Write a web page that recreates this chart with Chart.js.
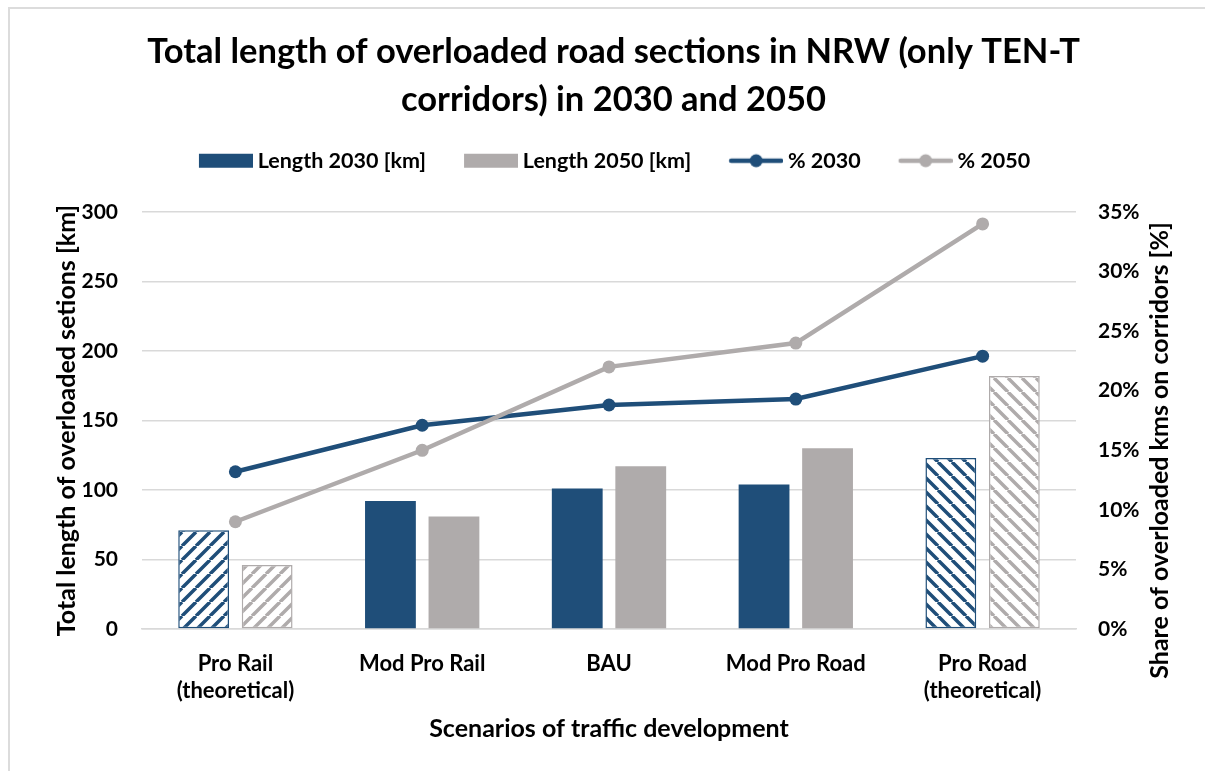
<!DOCTYPE html>
<html>
<head>
<meta charset="utf-8">
<title>Overloaded road sections in NRW</title>
<script src="https://cdn.jsdelivr.net/npm/chart.js@4.4.0/dist/chart.umd.min.js"></script>
<style>
  html, body { margin: 0; padding: 0; background: #fff; }
  #wrap { position: relative; width: 1205px; height: 771px; overflow: hidden; }
  #frame { position: absolute; left: 8px; top: 7px; width: 1300px; height: 900px;
           border-top: 2px solid #dcdcdc; border-left: 2px solid #dcdcdc; pointer-events: none; }
</style>
</head>
<body>
<div id="wrap">
  <canvas id="chart" width="1205" height="771"></canvas>
  <div id="frame"></div>
</div>
<script>
// data
const scenarios = [['Pro Rail', '(theoretical)'], 'Mod Pro Rail', 'BAU', 'Mod Pro Road', ['Pro Road', '(theoretical)']];
const length2030 = [71, 92, 101, 104, 123];
const length2050 = [46, 81, 117, 130, 182];
const share2030 = [13.2, 17.1, 18.8, 19.3, 22.9];
const share2050 = [9.0, 15.0, 22.0, 24.0, 34.0];
// theoretical scenarios are drawn hatched ('/' or '\')
const hatchDir = ['/', null, null, null, '\\'];
const kmTicks = [0, 50, 100, 150, 200, 250, 300];
const shareTicks = [0, 5, 10, 15, 20, 25, 30, 35];

const titleText = ['Total length of overloaded road sections in NRW (only TEN-T', 'corridors) in 2030 and 2050'];
const yTitle = 'Total length of overloaded setions [km]';
const y1Title = 'Share of overloaded kms on corridors [%]';
const xTitle = 'Scenarios of traffic development';

const BLUE = '#1f4e79';
const GREY = '#afabab';
const GRID = '#d9d9d9';
const FONT = 'Lato, "Open Sans", sans-serif';

Chart.defaults.font.family = FONT;
Chart.defaults.color = '#000';

// white tile with diagonal stripes
function hatch(color, dir) {
    const s = 14;
    const c = document.createElement('canvas');
    c.width = s; c.height = s;
    const g = c.getContext('2d');
    g.fillStyle = '#fff';
    g.fillRect(0, 0, s, s);
    g.strokeStyle = color;
    g.lineWidth = 3.5;
    g.beginPath();
    [-s, 0, s].forEach(k => {
        if (dir === '/') { g.moveTo(k, s); g.lineTo(k + s, 0); }
        else { g.moveTo(k, 0); g.lineTo(k + s, s); }
    });
    g.stroke();
    return document.getElementById('chart').getContext('2d').createPattern(c, 'repeat');
}

// small canvases used as legend symbols (mark sits on the right, close to the text)
function legendIcon(color, kind) {
    const c = document.createElement('canvas');
    c.width = 62; c.height = 16;
    const g = c.getContext('2d');
    g.fillStyle = color;
    g.strokeStyle = color;
    if (kind === 'bar') {
        g.fillRect(8, 1, 54, 14);
    } else {
        g.lineWidth = 4.5;
        g.lineCap = 'round';
        g.beginPath(); g.moveTo(10, 8); g.lineTo(60, 8); g.stroke();
        g.beginPath(); g.arc(35, 8, 6.5, 0, Math.PI * 2); g.fill();
    }
    return c;
}

// empty box between legend and plot
const legendGap = {
    id: 'legendGap',
    beforeInit(chart) {
        Chart.layouts.addBox(chart, {
            position: 'top', weight: 0, fullSize: true, options: {},
            update(maxWidth) { this.width = maxWidth; this.height = 30.5; },
            isHorizontal() { return true; },
            draw() {}
        });
    }
};

const rightTitle = {
    id: 'rightTitle',
    afterDraw(chart) {
        const { ctx, chartArea, scales } = chart;
        ctx.save();
        ctx.translate(scales.y1.right - 45, (chartArea.top + chartArea.bottom) / 2 + 30);
        ctx.rotate(-Math.PI / 2);
        ctx.font = 'bold 25px ' + FONT;
        ctx.fillStyle = '#000';
        ctx.textAlign = 'center';
        ctx.textBaseline = 'middle';
        ctx.fillText(y1Title, 0, 0);
        ctx.restore();
    }
};

const ctx = document.getElementById('chart').getContext('2d');
const chart = new Chart(ctx, {
    type: 'bar',
    data: {
        labels: scenarios,
        datasets: [
            { label: 'Length 2030 [km]', data: length2030, yAxisID: 'y', order: 2,
              backgroundColor: length2030.map((v, i) => hatchDir[i] ? hatch(BLUE, hatchDir[i]) : BLUE),
              borderColor: BLUE, borderWidth: hatchDir.map(d => d ? 1.5 : 0), borderSkipped: false,
              icon: legendIcon(BLUE, 'bar') },
            { label: 'Length 2050 [km]', data: length2050, yAxisID: 'y', order: 3,
              backgroundColor: length2050.map((v, i) => hatchDir[i] ? hatch(GREY, hatchDir[i]) : GREY),
              borderColor: GREY, borderWidth: hatchDir.map(d => d ? 1.5 : 0), borderSkipped: false,
              icon: legendIcon(GREY, 'bar') },
            { type: 'line', label: '% 2030', data: share2030, yAxisID: 'y1', order: 1,
              borderColor: BLUE, backgroundColor: BLUE, borderWidth: 4.5, tension: 0,
              pointRadius: 6.5, pointBackgroundColor: BLUE, pointBorderWidth: 0,
              icon: legendIcon(BLUE, 'line') },
            { type: 'line', label: '% 2050', data: share2050, yAxisID: 'y1', order: 0,
              borderColor: GREY, backgroundColor: GREY, borderWidth: 4.5, tension: 0,
              pointRadius: 6.5, pointBackgroundColor: GREY, pointBorderWidth: 0,
              icon: legendIcon(GREY, 'line') }
        ]
    },
    options: {
        responsive: false,
        animation: false,
        layout: { padding: { left: 22, right: 0, top: 0, bottom: 24 } },
        datasets: { bar: { categoryPercentage: 0.68, barPercentage: 0.8 } },
        plugins: {
            title: {
                display: true, text: titleText,
                font: { size: 34.5, weight: 'bold', lineHeight: 48 / 34.5 },
                padding: { top: 28, bottom: -10 }
            },
            legend: {
                display: true,
                labels: {
                    usePointStyle: true, pointStyleWidth: 50, padding: 36,
                    font: { size: 21.5, weight: 'bold' },
                    generateLabels: c => c.data.datasets.map((d, i) => ({
                        text: d.label, pointStyle: d.icon, fillStyle: d.borderColor,
                        strokeStyle: d.borderColor, lineWidth: 0, datasetIndex: i, hidden: false
                    }))
                }
            },
            tooltip: { enabled: false }
        },
        scales: {
            x: {
                grid: { display: false, drawTicks: false },
                border: { display: true, color: GRID, width: 1.5 },
                ticks: { font: { size: 22, weight: 'bold', lineHeight: 27 / 22 }, padding: 21, maxRotation: 0 },
                title: { display: true, text: xTitle, font: { size: 25, weight: 'bold' }, padding: { top: 0, bottom: 3 } },
                afterFit: s => { s.height = 118; }
            },
            y: {
                position: 'left',
                min: kmTicks[0], max: kmTicks[kmTicks.length - 1],
                grid: { color: GRID, lineWidth: 1.5, drawTicks: false },
                border: { display: false },
                ticks: { stepSize: kmTicks[1] - kmTicks[0], font: { size: 21, weight: 'bold' }, padding: 24 },
                title: { display: true, text: yTitle, font: { size: 25, weight: 'bold' }, padding: { top: 30, bottom: 0 } },
                afterFit: s => { s.width = 120; }
            },
            y1: {
                position: 'right',
                min: shareTicks[0], max: shareTicks[shareTicks.length - 1],
                grid: { display: false, drawTicks: false },
                border: { display: false },
                ticks: { stepSize: shareTicks[1] - shareTicks[0], font: { size: 21, weight: 'bold' }, padding: 22,
                         callback: v => v + '%' },
                afterFit: s => { s.width = 129; }
            }
        }
    },
    plugins: [legendGap, rightTitle]
});
</script>
</body>
</html>
